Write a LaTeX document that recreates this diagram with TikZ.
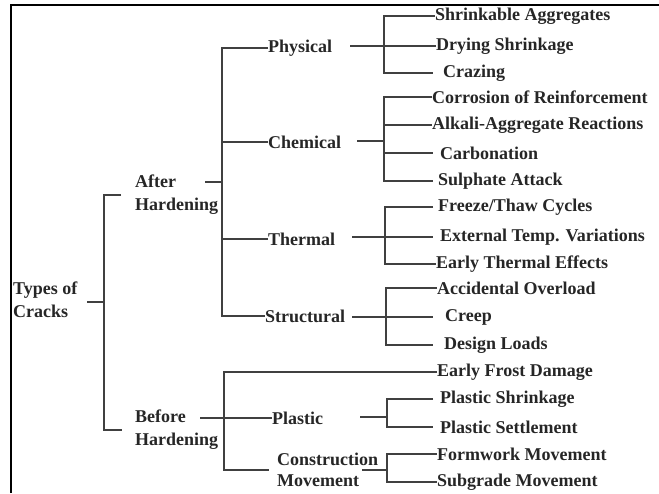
\documentclass[tikz,border=0pt]{standalone}
\usepackage{fontspec}
\setmainfont{Liberation Serif}
\usepackage{tikz}

\tikzset{
  txt/.style={font=\bfseries\fontsize{18}{23}\selectfont, text=black!85, anchor=west, inner sep=0pt, align=left},
  brk/.style={line width=1.6pt, draw=black!75},
  sub/.style={line width=1.2pt, draw=black!75}
}

\begin{document}
\begin{tikzpicture}[x=1pt,y=-1pt]
    \useasboundingbox (0,0) rectangle (659,493);
    \draw[line width=1.5pt] (11,493) -- (11,5) -- (659,5);

    % main groups
    \node[txt] (types) at (13,300) {Types of\\Cracks};
    \node[txt] (after) at (135,195) {After\\Hardening};
    \node[txt] (before) at (135,430) {Before\\Hardening};

    \node[txt] (phys) at (268,48) {Physical};
    \node[txt] (chem) at (268,142) {Chemical};
    \node[txt] (therm) at (268,239) {Thermal};
    \node[txt] (struct) at (265,316) {Structural};
    \node[txt] (plast) at (272,418) {Plastic};
    \node[txt, font=\bfseries\fontsize{18}{21}\selectfont] (constr) at (277,470) {Construction\\Movement};

    % leaves
    \node[txt] (shrink) at (435,16) {Shrinkable Aggregates};
    \node[txt] (dry) at (436,46) {Drying Shrinkage};
    \node[txt] (craz) at (443,73) {Crazing};
    \node[txt] (corr) at (432,97) {Corrosion of Reinforcement};
    \node[txt] (alkali) at (432,125) {Alkali-Aggregate Reactions};
    \node[txt] (carb) at (440,153) {Carbonation};
    \node[txt] (sulph) at (438,181) {Sulphate Attack};
    \node[txt] (freeze) at (438,207) {Freeze/Thaw Cycles};
    \node[txt] (ext) at (440,237) {External Temp. Variations};
    \node[txt] (early) at (436,264) {Early Thermal Effects};
    \node[txt] (accid) at (437,288) {Accidental Overload};
    \node[txt] (creep) at (445,317) {Creep};
    \node[txt] (design) at (444,345) {Design Loads};
    \node[txt] (frost) at (437,372) {Early Frost Damage};
    \node[txt] (pshr) at (440,399) {Plastic Shrinkage};
    \node[txt] (pset) at (440,427) {Plastic Settlement};
    \node[txt] (form) at (437,454) {Formwork Movement};
    \node[txt] (subg) at (437,482) {Subgrade Movement};

    % root bracket
    \coordinate (rootD) at (87,302);
    \coordinate (rootJ) at (104,302);
    \draw[brk] (rootD) -- (rootJ);
    \draw[brk] ([xshift=-14pt]after.west) -| (rootJ) |- ([xshift=-13pt]before.west);

    % after hardening
    \coordinate (aftD) at (205,182);
    \coordinate (aftJ) at (222,182);
    \draw[brk] (aftD) -- (aftJ);
    \draw[brk] (phys.west) -| (aftJ) |- (struct.west);
    \draw[brk] (aftJ |- chem.west) -- (chem.west);
    \draw[brk] (aftJ |- therm.west) -- (therm.west);

    % before hardening
    \coordinate (befD) at (200,418);
    \coordinate (befJ) at (224,418);
    \draw[brk] (befD) -- (plast.west);
    \draw[brk] (frost.west) -| (befJ) |- ([xshift=-8pt]constr.west);

    % physical
    \coordinate (physD) at (350,46);
    \coordinate (physJ) at (384,46);
    \draw[sub] (physD) -- (dry.west);
    \draw[sub] (shrink.west) -| (physJ) |- ([xshift=-10pt]craz.west);

    % chemical
    \coordinate (chemD) at (357,141);
    \coordinate (chemJ) at (384,141);
    \draw[sub] (chemD) -- (chemJ);
    \draw[sub] (corr.west) -| (chemJ) |- ([xshift=-5pt]sulph.west);
    \draw[sub] (chemJ |- alkali.west) -- (alkali.west);
    \draw[sub] (chemJ |- carb.west) -- ([xshift=-7pt]carb.west);

    % thermal
    \coordinate (thermD) at (352,237);
    \coordinate (thermJ) at (385,237);
    \draw[sub] (thermD) -- ([xshift=-7pt]ext.west);
    \draw[sub] ([xshift=-5pt]freeze.west) -| (thermJ) |- (early.west);

    % structural
    \coordinate (structD) at (352,317);
    \coordinate (structJ) at (386,317);
    \draw[sub] (structD) -- ([xshift=-12pt]creep.west);
    \draw[sub] (accid.west) -| (structJ) |- ([xshift=-11pt]design.west);

    % plastic
    \coordinate (plastD) at (360,417);
    \coordinate (plastJ) at (387,417);
    \draw[sub] (plastD) -- (plastJ);
    \draw[sub] ([xshift=-7pt]pshr.west) -| (plastJ) |- ([xshift=-7pt]pset.west);

    % construction movement
    \coordinate (constrD) at (362,470);
    \coordinate (constrJ) at (387,470);
    \draw[sub] (constrD) -- (constrJ);
    \draw[sub] (form.west) -| (constrJ) |- (subg.west);
\end{tikzpicture}
\end{document}
